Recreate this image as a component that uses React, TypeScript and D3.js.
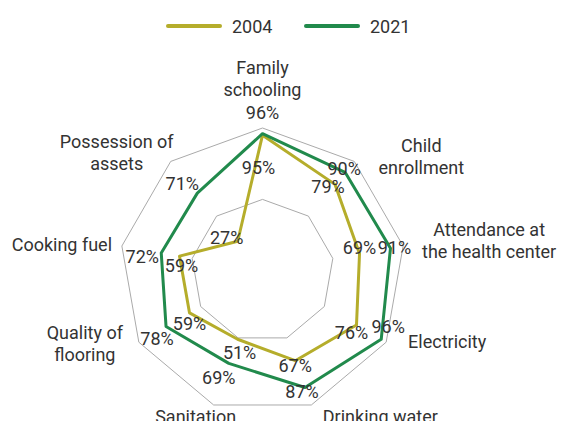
import React from "react";
import * as d3 from "d3";

const categories = [
  ["Family", "schooling"],
  ["Child", "enrollment"],
  ["Attendance at", "the health center"],
  ["Electricity"],
  ["Drinking water"],
  ["Sanitation"],
  ["Quality of", "flooring"],
  ["Cooking fuel"],
  ["Possession of", "assets"],
];
const seriesNames = ["2004", "2021"];
const values2004 = [95, 79, 69, 76, 67, 51, 59, 59, 27];
const values2021 = [96, 90, 91, 96, 87, 69, 78, 72, 71];
const rings = [50, 100];

const colors = ["#b5ad2b", "#218a4c"];
// label nudges (style)
const catOffsets = [[0, -54], [67, -9], [86, -10], [61, 6], [69, 18], [-18, 18], [-54, -3], [-60, 5], [-54, -13]];
const off2004 = [[-4, 32], [-7, 2], [0, -6], [-5, 7], [0, 5], [2, 13], [0, 11], [2, 9], [-11, -4]];
const off2021 = [[0, -21], [-1, -4], [4, -1], [7, -13], [-3, 4], [-10, 14], [-9, 12], [-19, 4], [-15, -10]];

export default function App() {
  const W = 566, H = 429;
  const cx = 262.5, cy = 270.8, R = 142.8;
  const fs = 18;
  const n = categories.length;
  const angle = d3.scaleLinear().domain([0, n]).range([0, 2 * Math.PI]);
  const r = d3.scaleLinear().domain([0, 100]).range([0, R]);
  const pt = (i: number, v: number): [number, number] => [
    cx + r(v) * Math.sin(angle(i)),
    cy - r(v) * Math.cos(angle(i)),
  ];
  const line = d3.line().curve(d3.curveLinearClosed);
  const series = [values2004, values2021];
  const offs = [off2004, off2021];
  const textColor = "#333";
  return (
    <div style={{ margin: -8 }}>
      <svg width={W} height={H} style={{ display: "block", fontFamily: "Roboto, sans-serif" }}>
        <rect width={W} height={H} fill="#fff" />
        {rings.map((v) => (
          <path key={v} d={line(categories.map((_, i) => pt(i, v))) || ""} fill="none" stroke="#aaa" strokeWidth={1} />
        ))}
        {series.map((vals, s) => (
          <path key={s} d={line(vals.map((v, i) => pt(i, v))) || ""} fill="none" stroke={colors[s]} strokeWidth={3} strokeLinejoin="round" />
        ))}
        {series.map((vals, s) =>
          vals.map((v, i) => {
            const [x, y] = pt(i, v);
            return (
              <text key={`${s}-${i}`} x={x + offs[s][i][0]} y={y + offs[s][i][1]} textAnchor="middle" dominantBaseline="central" fontSize={fs} fill={textColor}>
                {v}%
              </text>
            );
          })
        )}
        {categories.map((lines, i) => {
          const [x, y] = pt(i, 100);
          return (
            <text key={i} x={x + catOffsets[i][0]} y={y + catOffsets[i][1]} textAnchor="middle" fontSize={fs} fill={textColor}>
              {lines.map((l, k) => (
                <tspan key={k} x={x + catOffsets[i][0]} dy={k === 0 ? 0 : 22}>{l}</tspan>
              ))}
            </text>
          );
        })}
        {seriesNames.map((name, s) => (
          <g key={name} transform={`translate(${168 + s * 138},26)`}>
            <line x1={0} x2={52} y1={0} y2={0} stroke={colors[s]} strokeWidth={4} strokeLinecap="round" />
            <text x={64} y={0} dominantBaseline="central" fontSize={fs} fill={textColor}>{name}</text>
          </g>
        ))}
      </svg>
    </div>
  );
}
